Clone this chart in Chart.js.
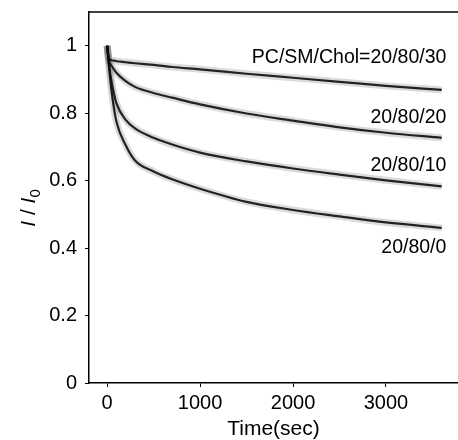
<!DOCTYPE html>
<html>
<head>
<meta charset="utf-8">
<script src="https://cdn.jsdelivr.net/npm/chart.js@4/dist/chart.umd.min.js"></script>
<style>
  html, body { margin: 0; padding: 0; background: #fff; }
  #wrap { width: 458px; height: 440px; }
</style>
</head>
<body>
<div id="wrap"><canvas id="myChart"></canvas></div>
<script>
// time axis (sec) and normalised intensity I/I0 for each composition
const times = [0, 20, 50, 100, 200, 300, 500, 700, 1000, 1500, 2000, 2500, 3000, 3600];
const chol30 = [1.0, 0.962, 0.957, 0.954, 0.951, 0.948, 0.943, 0.937, 0.93, 0.917, 0.905, 0.893, 0.881, 0.869];
const chol20 = [1.0, 0.955, 0.94, 0.92, 0.895, 0.878, 0.86, 0.846, 0.826, 0.799, 0.778, 0.758, 0.742, 0.727];
const chol10 = [1.0, 0.945, 0.89, 0.83, 0.78, 0.755, 0.727, 0.707, 0.683, 0.657, 0.636, 0.618, 0.601, 0.583];
const chol0 = [1.0, 0.94, 0.86, 0.775, 0.705, 0.66, 0.627, 0.604, 0.576, 0.537, 0.513, 0.494, 0.476, 0.46];
const seriesLabels = ["PC/SM/Chol=20/80/30", "20/80/20", "20/80/10", "20/80/0"];
const xTicks = [0, 1000, 2000, 3000];
const yTicks = [0, 0.2, 0.4, 0.6, 0.8, 1];

const allSeries = [chol30, chol20, chol10, chol0];
// where the curve labels sit (data coords)
const labelAt = [[3650, 0.964], [3650, 0.786], [3650, 0.644], [3650, 0.40]];

function pts(vals) {
    return times.map((t, i) => ({ x: t, y: vals[i] }));
}

const datasets = [];
allSeries.forEach(function (s) {
    // soft grey band behind, like the scattered points
    datasets.push({
        data: pts(s),
        borderColor: "rgba(0,0,0,0.14)",
        borderWidth: 7,
        pointRadius: 0,
        cubicInterpolationMode: "monotone",
        fill: false
    });
    datasets.push({
        data: pts(s),
        borderColor: "rgba(15,15,15,0.9)",
        borderWidth: 2.2,
        pointRadius: 0,
        cubicInterpolationMode: "monotone",
        fill: false
    });
});

const extras = {
    id: "extras",
    afterDraw(chart) {
        const ctx = chart.ctx;
        const a = chart.chartArea;
        const xs = chart.scales.x, ys = chart.scales.y;
        ctx.save();
        // top frame line
        ctx.strokeStyle = "#000";
        ctx.lineWidth = 1.5;
        ctx.beginPath();
        ctx.moveTo(a.left, a.top);
        ctx.lineTo(a.right, a.top);
        ctx.stroke();

        // curve labels
        ctx.fillStyle = "#000";
        ctx.font = "19.5px 'Liberation Sans', Arial, sans-serif";
        ctx.textAlign = "right";
        ctx.textBaseline = "middle";
        seriesLabels.forEach(function (txt, i) {
            ctx.fillText(txt, xs.getPixelForValue(labelAt[i][0]), ys.getPixelForValue(labelAt[i][1]));
        });

        // y title  I / I0  (rotated)
        ctx.translate(35, 208);
        ctx.rotate(-Math.PI / 2);
        ctx.textAlign = "left";
        ctx.textBaseline = "alphabetic";
        const it = "italic 21px 'Liberation Sans', Arial, sans-serif";
        const rg = "21px 'Liberation Sans', Arial, sans-serif";
        const sb = "15px 'Liberation Sans', Arial, sans-serif";
        const parts = [["I", it, 0], [" / ", rg, 0], ["I", it, 0], ["0", sb, 5]];
        let total = 0;
        parts.forEach(p => { ctx.font = p[1]; total += ctx.measureText(p[0]).width; });
        let x = -total / 2;
        parts.forEach(p => {
            ctx.font = p[1];
            ctx.fillText(p[0], x, p[2]);
            x += ctx.measureText(p[0]).width;
        });
        ctx.restore();
    }
};

new Chart("myChart", {
    type: "line",
    data: { datasets: datasets },
    plugins: [extras],
    options: {
        responsive: true,
        maintainAspectRatio: false,
        animation: false,
        layout: { padding: { top: 12, right: 0, left: 0, bottom: 0 } },
        plugins: {
            legend: { display: false },
            tooltip: { enabled: false }
        },
        scales: {
            x: {
                type: "linear",
                min: -195,
                max: 3775,
                afterBuildTicks: s => { s.ticks = xTicks.map(v => ({ value: v })); },
                afterFit: s => { s.height = 57; s.paddingLeft = 0; s.paddingRight = 0; },
                border: { display: true, color: "#000", width: 1.5 },
                grid: { drawOnChartArea: false, tickLength: 4, color: "#000", tickColor: "#000" },
                ticks: {
                    color: "#000",
                    padding: 4,
                    maxRotation: 0,
                    font: { family: "'Liberation Sans', Arial, sans-serif", size: 20 },
                    callback: v => String(v)
                },
                title: {
                    display: true,
                    text: "Time(sec)",
                    color: "#000",
                    padding: { top: 0, bottom: 0 },
                    font: { family: "'Liberation Sans', Arial, sans-serif", size: 21, lineHeight: 1 }
                }
            },
            y: {
                min: 0,
                max: 1.1,
                afterBuildTicks: s => { s.ticks = yTicks.map(v => ({ value: v })); },
                afterFit: s => { s.width = 89; s.paddingTop = 0; s.paddingBottom = 0; },
                border: { display: true, color: "#000", width: 1.5 },
                grid: { drawOnChartArea: false, tickLength: 4, color: "#000", tickColor: "#000" },
                ticks: {
                    color: "#000",
                    padding: 8,
                    font: { family: "'Liberation Sans', Arial, sans-serif", size: 20 },
                    callback: v => String(Math.round(v * 10) / 10)
                }
            }
        }
    }
});
</script>
</body>
</html>
